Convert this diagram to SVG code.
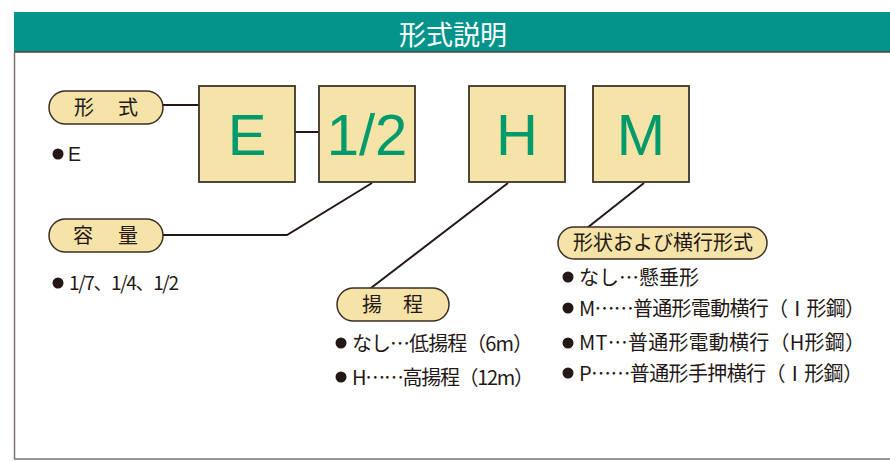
<svg xmlns="http://www.w3.org/2000/svg" width="890" height="461" viewBox="0 0 890 461" xml:lang="ja">
<style>
.t{font-family:"Noto Sans CJK JP","Noto Sans",sans-serif;fill:#231815}
.la{font-family:"Liberation Sans",Arial,sans-serif}
.pill{fill:#F5E3A8;stroke:#3a2e25;stroke-width:1.5}
.box{fill:#F5E3A8;stroke:#3d3328;stroke-width:1.8}
.big{font-family:"Liberation Sans",Arial,sans-serif;font-size:58px;fill:#009A6B;text-anchor:middle}
.pt{font-size:20px;text-anchor:middle}
.it{font-size:20px}
.ln{stroke:#231815;stroke-width:2;fill:none}
.b{fill:#231815}
</style>
<rect x="14" y="12" width="876" height="40" fill="#05948B"/>
<line x1="14" y1="52" x2="890" y2="52" stroke="#4a4040" stroke-width="1.5"/>
<path d="M14.5 52 V459 H890" fill="none" stroke="#7a7472" stroke-width="1.5"/>
<text x="453" y="45" font-family="Noto Sans CJK JP,sans-serif" font-size="27" fill="#fff" text-anchor="middle">形式説明</text>
<g id="connectors">
<line class="ln" x1="163" y1="105" x2="199" y2="105"/>
<line class="ln" x1="295" y1="132" x2="319" y2="132"/>
<polyline class="ln" points="163,235 287,235 372,183"/>
<line class="ln" x1="508" y1="183" x2="371" y2="288"/>
<line class="ln" x1="644" y1="183" x2="587" y2="228"/>
</g>
<g id="box-E"><rect class="box" x="199" y="86" width="96" height="96"/><text class="big" x="247" y="155">E</text></g>
<g id="box-12"><rect class="box" x="319" y="86" width="96" height="96"/><text class="big" x="367" y="155">1/2</text></g>
<g id="box-H"><rect class="box" x="469" y="86" width="96" height="96"/><text class="big" x="517" y="155">H</text></g>
<g id="box-M"><rect class="box" x="593" y="86" width="96" height="96"/><text class="big" x="641" y="155">M</text></g>
<g id="pill-keishiki"><rect class="pill" x="49" y="91" width="114" height="33" rx="16.5"/><text class="t pt" y="115"><tspan x="84">形</tspan><tspan x="128">式</tspan></text></g>
<g id="note-keishiki"><circle class="b" cx="58" cy="154" r="5.5"/><text class="t la" x="68" y="161" font-size="19.5">E</text></g>
<g id="pill-youryou"><rect class="pill" x="49" y="219" width="114" height="33" rx="16.5"/><text class="t pt" y="243"><tspan x="83">容</tspan><tspan x="128">量</tspan></text></g>
<g id="note-youryou"><circle class="b" cx="58" cy="283" r="5.5"/><text class="t" x="69" y="290" font-size="19" textLength="110" lengthAdjust="spacing">1/7、1/4、1/2</text></g>
<g id="pill-youtei"><rect class="pill" x="337" y="288" width="112" height="33" rx="16.5"/><text class="t pt" y="312"><tspan x="372">揚</tspan><tspan x="413">程</tspan></text></g>
<g id="note-youtei">
<circle class="b" cx="341" cy="343" r="5.5"/><text class="t it" x="352" y="351" textLength="181" lengthAdjust="spacing">なし⋯低揚程（6m）</text>
<circle class="b" cx="341" cy="377" r="5.5"/><text class="t it" x="352" y="385" textLength="182" lengthAdjust="spacing">H⋯⋯高揚程（12m）</text>
</g>
<g id="pill-keijou"><rect class="pill" x="558" y="227" width="209" height="32" rx="16"/><text class="t pt" x="663" y="250">形状および横行形式</text></g>
<g id="note-keijou">
<circle class="b" cx="568" cy="277" r="5.5"/><text class="t it" x="579" y="285">なし⋯懸垂形</text>
<circle class="b" cx="568" cy="308" r="5.5"/><text class="t it" x="579" y="316" textLength="286" lengthAdjust="spacing">M⋯⋯普通形電動横行（Ⅰ形鋼）</text>
<circle class="b" cx="568" cy="343" r="5.5"/><text class="t it" x="579" y="350" textLength="286" lengthAdjust="spacing">MT⋯普通形電動横行（H形鋼）</text>
<circle class="b" cx="568" cy="373" r="5.5"/><text class="t it" x="579" y="381" textLength="284" lengthAdjust="spacing">P⋯⋯普通形手押横行（Ⅰ形鋼）</text>
</g>
</svg>
